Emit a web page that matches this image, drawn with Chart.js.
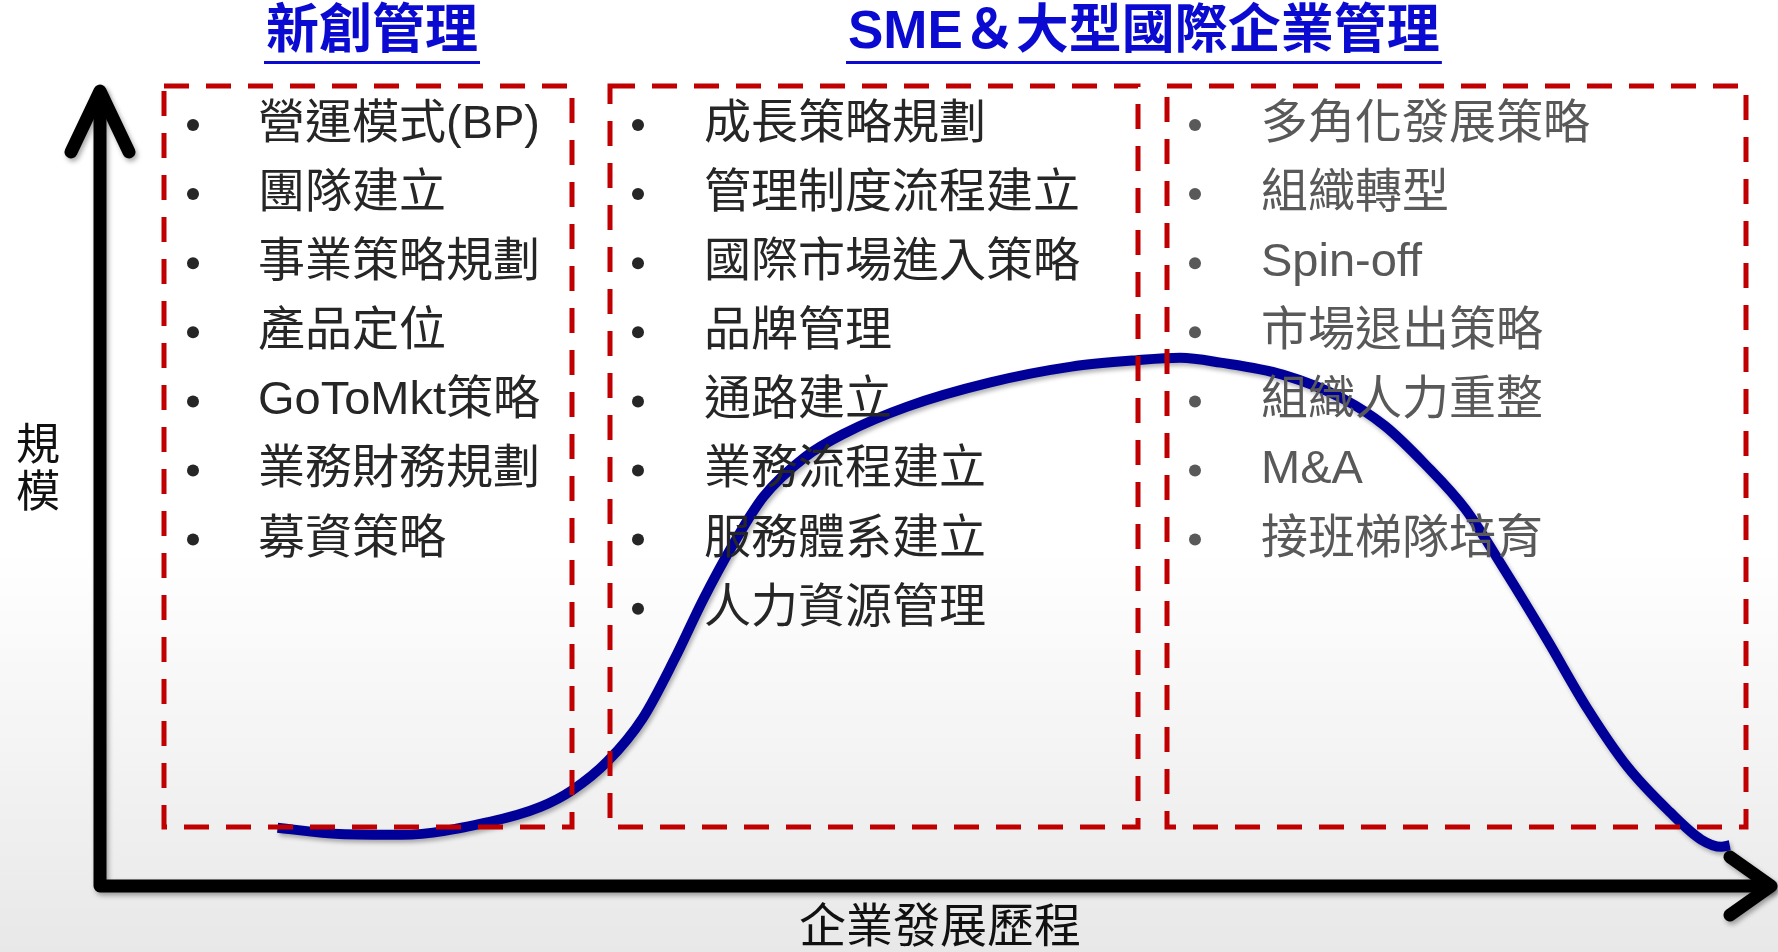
<!DOCTYPE html>
<html>
<head>
<meta charset="utf-8">
<script src="https://cdn.jsdelivr.net/npm/chart.js@4/dist/chart.umd.min.js"></script>
<style>
  html, body { margin: 0; padding: 0; background: #fff; }
  canvas { display: block; }
</style>
</head>
<body>
<canvas id="myChart" width="1778" height="952"></canvas>
<script>
// curve: stage of development (0-100) vs scale (0-100)
const stageX = [10.6, 14.3, 18.0, 23.2, 26.3, 28.2, 30.3, 32.4, 34.3, 36.0, 37.7, 39.6, 42.1, 44.5, 48.2, 53.1, 58.0, 61.9, 64.5, 66.9, 70.6, 74.2, 76.7, 79.1, 81.5, 83.9, 86.4, 88.8, 91.2, 93.7, 95.6, 96.8, 97.3];
const scaleY = [7.3, 6.5, 6.4, 8.0, 9.9, 12.0, 15.6, 21.0, 28.4, 35.8, 42.4, 48.7, 53.7, 56.7, 60.0, 63.0, 65.0, 65.8, 66.1, 65.5, 64.0, 61.0, 57.6, 52.8, 47.2, 39.4, 30.8, 22.2, 14.9, 9.3, 5.8, 4.9, 5.1];

const titleStartup = '新創管理';
const titleSme = 'SME＆大型國際企業管理';
const yAxisLabel = ['規', '模'];
const xAxisLabel = '企業發展歷程';

const startupItems = ['營運模式(BP)', '團隊建立', '事業策略規劃', '產品定位', 'GoToMkt策略', '業務財務規劃', '募資策略'];
const growthItems = ['成長策略規劃', '管理制度流程建立', '國際市場進入策略', '品牌管理', '通路建立', '業務流程建立', '服務體系建立', '人力資源管理'];
const matureItems = ['多角化發展策略', '組織轉型', 'Spin-off', '市場退出策略', '組織人力重整', 'M&A', '接班梯隊培育'];

const FONT = "'Liberation Sans', 'Noto Sans CJK TC', sans-serif";

const scene = {
  id: 'scene',
  beforeDraw(chart) {
    const ctx = chart.ctx;
    const w = chart.width, h = chart.height;
    const g = ctx.createLinearGradient(0, 0, 0, h);
    g.addColorStop(0, '#ffffff');
    g.addColorStop(0.58, '#ffffff');
    g.addColorStop(1, '#e8e8e8');
    ctx.save();
    ctx.fillStyle = g;
    ctx.fillRect(0, 0, w, h);

    // axes with arrows
    const a = chart.chartArea;
    ctx.strokeStyle = '#000';
    ctx.lineWidth = 13;
    ctx.lineCap = 'round';
    ctx.lineJoin = 'round';
    ctx.shadowColor = 'rgba(0,0,0,0.35)';
    ctx.shadowBlur = 5;
    ctx.shadowOffsetX = 2;
    ctx.shadowOffsetY = 3;
    ctx.beginPath();
    ctx.moveTo(a.left, a.top + 6);
    ctx.lineTo(a.left, a.bottom);
    ctx.lineTo(a.right - 6, a.bottom);
    ctx.stroke();
    ctx.beginPath();
    ctx.moveTo(a.left - 29, a.top + 65);
    ctx.lineTo(a.left, a.top + 4);
    ctx.lineTo(a.left + 29, a.top + 65);
    ctx.stroke();
    ctx.beginPath();
    ctx.moveTo(a.right - 45, a.bottom - 29);
    ctx.lineTo(a.right - 4, a.bottom);
    ctx.lineTo(a.right - 45, a.bottom + 29);
    ctx.stroke();
    ctx.restore();

    // axis titles
    ctx.save();
    ctx.fillStyle = '#111';
    ctx.font = '44px ' + FONT;
    ctx.textAlign = 'center';
    ctx.textBaseline = 'middle';
    yAxisLabel.forEach((c, i) => ctx.fillText(c, 38, 448 + i * 47));
    ctx.font = '47px ' + FONT;
    ctx.fillText(xAxisLabel, 940, 929);
    ctx.restore();
  },
  beforeDatasetsDraw(chart) {
    const ctx = chart.ctx;
    ctx.save();
    ctx.shadowColor = 'rgba(0,0,0,0.3)';
    ctx.shadowBlur = 4;
    ctx.shadowOffsetX = 2;
    ctx.shadowOffsetY = 3;
  },
  afterDatasetsDraw(chart) {
    const ctx = chart.ctx;
    ctx.restore();

    // dashed boxes
    ctx.save();
    ctx.strokeStyle = '#C00000';
    ctx.lineWidth = 5;
    ctx.setLineDash([25, 17]);
    [[164, 86, 572, 827], [610, 86, 1138, 827], [1167, 86, 1746, 827]].forEach(b => {
      ctx.strokeRect(b[0], b[1], b[2] - b[0], b[3] - b[1]);
    });
    ctx.restore();

    // lists
    const lists = [
      { items: startupItems, bx: 193, tx: 258, color: '#262626' },
      { items: growthItems, bx: 638, tx: 704, color: '#262626' },
      { items: matureItems, bx: 1195, tx: 1261, color: '#595959' }
    ];
    ctx.save();
    ctx.font = '47px ' + FONT;
    ctx.textBaseline = 'middle';
    ctx.textAlign = 'left';
    lists.forEach(l => {
      ctx.fillStyle = l.color;
      l.items.forEach((t, i) => {
        const y = 125 + i * 69.1;
        ctx.beginPath();
        ctx.arc(l.bx, y, 6, 0, Math.PI * 2);
        ctx.fill();
        ctx.fillText(t, l.tx, y);
      });
    });
    ctx.restore();

    // titles
    ctx.save();
    ctx.fillStyle = '#0a0ad0';
    ctx.font = 'bold 53px ' + FONT;
    ctx.textBaseline = 'middle';
    ctx.textAlign = 'left';
    [[titleStartup, 266], [titleSme, 848]].forEach(t => {
      ctx.fillText(t[0], t[1], 33);
      const w = ctx.measureText(t[0]).width;
      ctx.fillRect(t[1] - 2, 61, w + 4, 3);
    });
    ctx.restore();
  }
};

const ctx = document.getElementById('myChart').getContext('2d');
new Chart(ctx, {
  type: 'line',
  data: {
    datasets: [{
      label: '規模',
      data: stageX.map((x, i) => ({ x: x, y: scaleY[i] })),
      borderColor: '#000099',
      borderWidth: 10,
      borderCapStyle: 'butt',
      cubicInterpolationMode: 'monotone',
      pointRadius: 0,
      fill: false
    }]
  },
  options: {
    responsive: false,
    animation: false,
    devicePixelRatio: 1,
    layout: { padding: { left: 100, right: 3, top: 87, bottom: 66 } },
    plugins: { legend: { display: false }, tooltip: { enabled: false } },
    scales: {
      x: { type: 'linear', min: 0, max: 100, display: false },
      y: { type: 'linear', min: 0, max: 100, display: false }
    }
  },
  plugins: [scene]
});
</script>
</body>
</html>
